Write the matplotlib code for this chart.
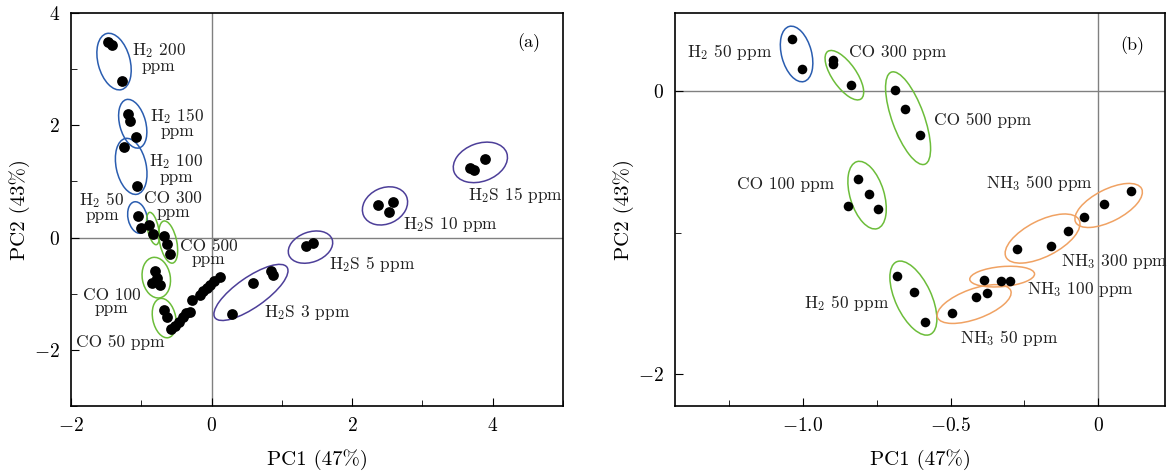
import matplotlib
matplotlib.use('Agg')
from matplotlib import pyplot as plt
from matplotlib.patches import Ellipse
from matplotlib import transforms

plt.rcParams['font.family'] = 'serif'
plt.rcParams['font.serif'] = ['cmr10']
plt.rcParams['mathtext.fontset'] = 'cm'
plt.rcParams['axes.formatter.use_mathtext'] = True

#############
# Panel (a) scores
pc1_a = [-1.47, -1.42, -1.28,
         -1.185, -1.16, -1.075,
         -1.24, -1.06,
         -1.04, -1.00,
         -0.886, -0.83,
         -0.677, -0.64, -0.59,
         -0.805, -0.85, -0.73, -0.77,
         -0.677, -0.63, -0.58,
         -0.52, -0.47, -0.40, -0.36, -0.31, -0.28, -0.165, -0.12, -0.07, -0.02, 0.03, 0.12,
         0.29, 0.59, 0.845, 0.87,
         1.35, 1.44,
         2.37, 2.58, 2.53,
         3.68, 3.73, 3.89]
pc2_a = [3.49, 3.43, 2.78,
         2.20, 2.08, 1.79,
         1.62, 0.92,
         0.38, 0.17,
         0.232, 0.07,
         0.036, -0.107, -0.30,
         -0.60, -0.81, -0.84, -0.72,
         -1.29, -1.42, -1.63,
         -1.57, -1.50, -1.41, -1.35, -1.33, -1.11, -1.02, -0.96, -0.90, -0.84, -0.78, -0.70,
         -1.36, -0.81, -0.60, -0.66,
         -0.15, -0.09,
         0.585, 0.63, 0.45,
         1.24, 1.21, 1.40]

# Panel (b) scores
pc1_b = [-1.038, -1.003,
         -0.90, -0.899, -0.837,
         -0.687, -0.653, -0.605,
         -0.813, -0.778, -0.846, -0.746,
         -0.68, -0.625, -0.585,
         -0.494, -0.414, -0.377,
         -0.387, -0.328, -0.298,
         -0.274, -0.16, -0.101,
         -0.047, 0.021, 0.113]
pc2_b = [0.367, 0.158,
         0.219, 0.189, 0.045,
         0.007, -0.127, -0.309,
         -0.622, -0.728, -0.813, -0.836,
         -1.305, -1.423, -1.63,
         -1.569, -1.454, -1.43,
         -1.338, -1.343, -1.343,
         -1.119, -1.093, -0.992,
         -0.888, -0.80, -0.709]

# group labels: text, x, y
labels_a = [('H$_2$ 200\nppm', -0.75, 3.21), ('H$_2$ 150\nppm', -0.49, 2.05),
            ('H$_2$ 100\nppm', -0.50, 1.23), ('H$_2$ 50\nppm', -1.56, 0.55),
            ('CO 300\nppm', -0.545, 0.57), ('CO 500\nppm', -0.04, -0.27),
            ('CO 100\nppm', -1.42, -1.14), ('CO 50 ppm', -1.30, -1.87),
            ('H$_2$S 3 ppm', 1.36, -1.34), ('H$_2$S 5 ppm', 2.29, -0.47),
            ('H$_2$S 10 ppm', 3.40, 0.24), ('H$_2$S 15 ppm', 4.32, 0.755)]
labels_b = [('H$_2$ 50 ppm', -1.249, 0.278), ('CO 300 ppm', -0.68, 0.273),
            ('CO 500 ppm', -0.393, -0.205), ('CO 100 ppm', -1.058, -0.657),
            ('H$_2$ 50 ppm', -0.853, -1.496), ('NH$_3$ 50 ppm', -0.302, -1.748),
            ('NH$_3$ 100 ppm', -0.061, -1.401), ('NH$_3$ 300 ppm', 0.055, -1.206),
            ('NH$_3$ 500 ppm', -0.197, -0.652)]

# group outlines: centre x, centre y, width px, height px, angle, gas
rings_a = [(-1.388, 3.134, 32, 58, 15, 'H2'), (-1.122, 2.027, 26, 50, 15, 'H2'),
           (-1.144, 1.268, 30, 57, 12, 'H2'), (-1.054, 0.357, 19, 32, 12, 'H2'),
           (-0.834, 0.161, 11, 33, 12, 'CO'), (-0.617, -0.080, 17, 43, 12, 'CO'),
           (-0.787, -0.714, 28, 41, 10, 'CO'), (-0.674, -1.434, 23, 40, 12, 'CO'),
           (0.560, -0.977, 88, 30, 35, 'H2S'), (1.407, -0.170, 46, 30, 20, 'H2S'),
           (2.467, 0.564, 47, 36, 25, 'H2S'), (3.824, 1.339, 56, 38, 20, 'H2S')]
rings_b = [(-1.022, 0.263, 30, 57, 15, 'H2'), (-0.860, 0.113, 24, 58, 35, 'CO'),
           (-0.644, -0.191, 32, 98, 20, 'CO'), (-0.783, -0.735, 34, 70, 17, 'CO'),
           (-0.626, -1.463, 36, 80, 25, 'CO'), (-0.420, -1.505, 78, 30, 20, 'NH3'),
           (-0.325, -1.311, 65, 20, 5, 'NH3'), (-0.188, -1.042, 82, 36, 27, 'NH3'),
           (0.036, -0.808, 74, 32, 27, 'NH3')]

gas_colors = {'H2': '#2a5db0', 'CO': '#6cbd3a', 'H2S': '#4d3f99', 'NH3': '#f0a263'}

f = plt.figure(figsize=(11.72, 4.73), dpi=100)
ax_a = f.add_axes([0.0606, 0.1416, 0.4198, 0.831])
ax_b = f.add_axes([0.576, 0.1416, 0.418, 0.831])


def ring(ax, cx, cy, w, h, ang, color):
    # size in pixels, centre in data units
    tr = f.dpi_scale_trans + transforms.ScaledTranslation(cx, cy, ax.transData)
    ax.add_patch(Ellipse((0, 0), w / f.dpi, h / f.dpi, angle=ang, transform=tr,
                         fill=False, ec=color, lw=1.1, zorder=2))


for ax, xs, ys, labs, rings, ms in [(ax_a, pc1_a, pc2_a, labels_a, rings_a, 60),
                                    (ax_b, pc1_b, pc2_b, labels_b, rings_b, 48)]:
    ax.axhline(0, color='0.5', lw=1, zorder=1)
    ax.axvline(0, color='0.5', lw=1, zorder=1)
    ax.scatter(xs, ys, s=ms, c='black', lw=0, zorder=3)
    for r in rings:
        ring(ax, r[0], r[1], r[2], r[3], r[4], gas_colors[r[5]])
    for t, x, y in labs:
        ax.text(x, y, t, ha='center', va='center', multialignment='center',
                fontsize=12.5, color='#222222', linespacing=0.85)
    ax.tick_params(axis='both', which='both', direction='in', top=False, right=False,
                   labelsize=14, pad=8)
    ax.tick_params(which='major', length=6)
    ax.tick_params(which='minor', length=4)
    for s in ax.spines.values():
        s.set_linewidth(1.2)
    ax.set_xlabel('PC1 (47%)', fontsize=15, labelpad=10)
    ax.set_ylabel('PC2 (43%)', fontsize=15, labelpad=3)

ax_a.set_xlim(-2, 5)
ax_a.set_ylim(-3, 4)
ax_a.set_xticks([-2, 0, 2, 4])
ax_a.set_xticks([-1, 1, 3, 5], minor=True)
ax_a.set_yticks([-2, 0, 2, 4])
ax_a.set_yticks([-3, -1, 1, 3], minor=True)
ax_a.text(4.51, 3.48, '(a)', ha='center', va='center', fontsize=13)

ax_b.set_xlim(-1.434, 0.227)
ax_b.set_ylim(-2.226, 0.553)
ax_b.set_xticks([-1.0, -0.5, 0], ['$-1.0$', '$-0.5$', '$0$'])
ax_b.set_xticks([-1.25, -0.75, -0.25], minor=True)
ax_b.set_yticks([-2, 0], ['$-2$', '$0$'])
ax_b.set_yticks([-1], minor=True)
ax_b.text(0.116, 0.325, '(b)', ha='center', va='center', fontsize=13)

plt.savefig('out.png', dpi=100)
